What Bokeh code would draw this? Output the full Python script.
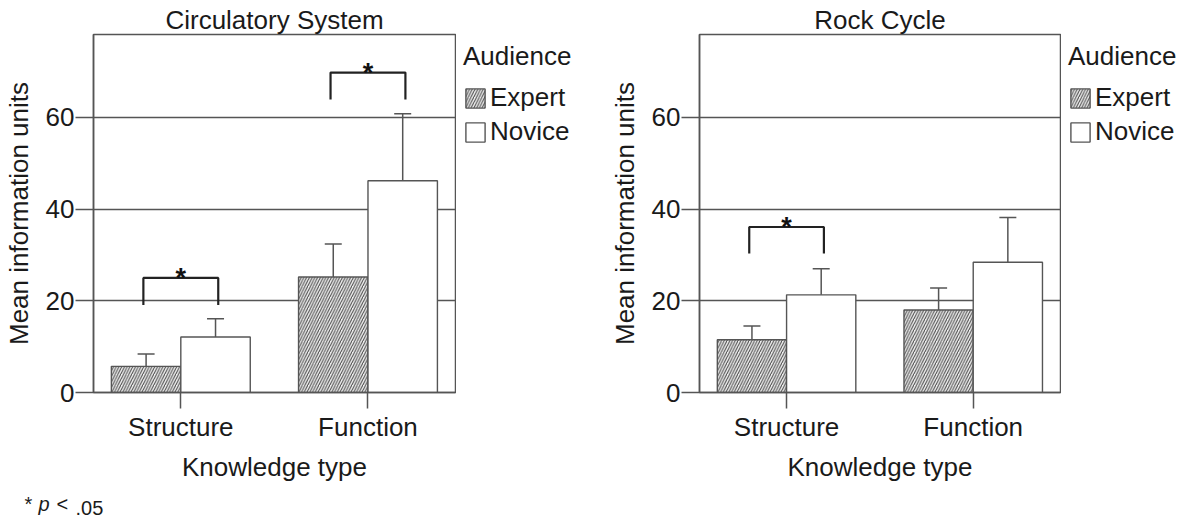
from bokeh.plotting import figure
from bokeh.models import (Range1d, FixedTicker, ColumnDataSource, Whisker, TeeHead,
                          Legend, LegendItem)
from bokeh.layouts import row, column
from bokeh.embed import file_html
from bokeh.resources import INLINE
from bokeh.core.properties import value

# ---------------- data ----------------
categories = ["Structure", "Function"]
audiences = ["Expert", "Novice"]
panel_titles = ["Circulatory System", "Rock Cycle"]
y_ticks = [0, 20, 40, 60]

circ_expert = [5.7, 25.2]
circ_expert_lo = [2.8, 17.9]
circ_expert_hi = [8.4, 32.4]
circ_novice = [12.1, 46.2]
circ_novice_lo = [8.0, 31.5]
circ_novice_hi = [16.1, 60.8]

rock_expert = [11.5, 18.0]
rock_expert_lo = [8.2, 13.0]
rock_expert_hi = [14.5, 22.8]
rock_novice = [21.3, 28.4]
rock_novice_lo = [15.6, 18.5]
rock_novice_hi = [27.0, 38.2]

# significance brackets (category, bottom of legs, top of bracket)
circ_sig_cat = ["Structure", "Function"]
circ_sig_bottom = [19.1, 63.9]
circ_sig_top = [25.0, 69.8]
rock_sig_cat = ["Structure"]
rock_sig_bottom = [30.3]
rock_sig_top = [36.1]

footnote_parts = ["*", "p", "<", ".05"]

# ---------------- style ----------------
FONT = "Liberation Sans"
TXT = "#1a1a1a"
LINE = "#555555"
FS = "26px"
BW = 0.371           # bar width (data units)
HALF = BW / 2
BRK = 0.2            # bracket half width
H = 490
TOP = 34
FRAME_H = 358
X_RANGE = (-0.4665, 1.4676)
Y_RANGE = (0, 78.1)

EXPERT_STYLE = dict(fill_color="#eeeeee", hatch_pattern="/", hatch_color="#4a4a4a",
                    hatch_scale=5.5, hatch_weight=1.05, line_color=LINE, line_width=1.4)
NOVICE_STYLE = dict(fill_color="white", line_color=LINE, line_width=1.4)


def style_axes(p):
    for ax in (p.xaxis, p.yaxis):
        ax.axis_line_color = LINE
        ax.axis_line_width = 1.5
        ax.major_tick_line_color = LINE
        ax.major_tick_line_width = 1.5
        ax.major_tick_in = 0
        ax.minor_tick_line_color = None
        ax.major_label_text_font = FONT
        ax.major_label_text_font_size = FS
        ax.major_label_text_color = TXT
        ax.axis_label_text_font = FONT
        ax.axis_label_text_font_size = FS
        ax.axis_label_text_font_style = "normal"
        ax.axis_label_text_color = TXT


def make_panel(title, expert, elo, ehi, novice, nlo, nhi, sig_cat, sig_bot, sig_top,
               left_border, frame_w):
    p = figure(width=left_border + frame_w + 1, height=H, output_backend="svg",
               toolbar_location=None, tools="",
               x_range=Range1d(*X_RANGE), y_range=Range1d(*Y_RANGE),
               min_border_left=left_border, min_border_right=1,
               min_border_top=TOP, min_border_bottom=H - TOP - FRAME_H)
    p.background_fill_color = "white"
    p.border_fill_color = "white"
    p.outline_line_color = LINE
    p.outline_line_width = 1.5

    p.title.text = title
    p.title.align = "center"
    p.title.text_font = FONT
    p.title.text_font_size = FS
    p.title.text_font_style = "normal"
    p.title.text_color = TXT
    p.title.standoff = 0

    p.xgrid.grid_line_color = None
    p.ygrid.ticker = FixedTicker(ticks=y_ticks)
    p.ygrid.grid_line_color = LINE
    p.ygrid.grid_line_width = 1.4

    p.yaxis.ticker = FixedTicker(ticks=y_ticks)
    p.yaxis.axis_label = "Mean information units"
    p.yaxis.major_tick_out = 18
    p.yaxis.major_label_standoff = 1
    p.yaxis.axis_label_standoff = 9

    p.xaxis.ticker = FixedTicker(ticks=list(range(len(categories))))
    p.xaxis.major_label_overrides = {i: c for i, c in enumerate(categories)}
    p.xaxis.axis_label = "Knowledge type"
    p.xaxis.major_tick_out = 16
    p.xaxis.major_label_standoff = 3
    p.xaxis.axis_label_standoff = 7
    style_axes(p)

    idx = list(range(len(categories)))
    ex = [i - HALF for i in idx]
    nx = [i + HALF for i in idx]

    p.vbar(x=ex, top=expert, bottom=0, width=BW, **EXPERT_STYLE)
    p.vbar(x=nx, top=novice, bottom=0, width=BW, **NOVICE_STYLE)

    for xs, lo, hi in ((ex, elo, ehi), (nx, nlo, nhi)):
        src = ColumnDataSource(dict(x=xs, lower=lo, upper=hi))
        w = Whisker(base="x", lower="lower", upper="upper", source=src,
                    line_color=LINE, line_width=1.5,
                    upper_head=TeeHead(size=17, line_color=LINE, line_width=1.5),
                    lower_head=TeeHead(size=17, line_color=LINE, line_width=1.5))
        p.add_layout(w)

    cs = [categories.index(c) for c in sig_cat]
    bxs = [[c - BRK, c - BRK, c + BRK, c + BRK] for c in cs]
    bys = [[b, t, t, b] for b, t in zip(sig_bot, sig_top)]
    p.multi_line(xs=bxs, ys=bys, line_color="#222222", line_width=2.2)
    p.text(x=cs, y=sig_top, text=["*"] * len(cs), text_align="center",
           text_baseline="alphabetic", y_offset=0, text_font=value(FONT),
           text_font_size="27px", text_font_style="bold", text_color="#111111")
    return p


def make_legend(width, expert, novice):
    # a side strip holding the panel's legend; its (hidden) bars carry the same
    # series and styles so the legend swatches match the panel's bars
    lg = figure(width=width, height=H, output_backend="svg", toolbar_location=None,
                tools="", x_range=Range1d(*X_RANGE), y_range=Range1d(*Y_RANGE),
                x_axis_location=None, y_axis_location=None,
                min_border_left=0, min_border_right=0,
                min_border_top=TOP, min_border_bottom=H - TOP - FRAME_H)
    lg.outline_line_color = None
    lg.grid.visible = False
    lg.background_fill_color = "white"
    lg.border_fill_color = "white"
    idx = list(range(len(categories)))
    r_exp = lg.vbar(x=[i - HALF for i in idx], top=expert, bottom=0, width=BW,
                    visible=False, **EXPERT_STYLE)
    r_nov = lg.vbar(x=[i + HALF for i in idx], top=novice, bottom=0, width=BW,
                    visible=False, **NOVICE_STYLE)
    legend = Legend(items=[LegendItem(label=audiences[0], renderers=[r_exp], index=0),
                           LegendItem(label=audiences[1], renderers=[r_nov], index=0)],
                    title="Audience", location="top_left")
    legend.click_policy = "none"
    legend.inactive_fill_alpha = 0
    legend.border_line_color = None
    legend.background_fill_alpha = 0
    legend.padding = 0
    legend.margin = 7
    legend.spacing = 3
    legend.glyph_width = 24
    legend.glyph_height = 24
    legend.label_height = 24
    legend.label_standoff = 3
    legend.title_standoff = 10
    legend.label_text_font = FONT
    legend.label_text_font_size = FS
    legend.label_text_color = TXT
    legend.title_text_font = FONT
    legend.title_text_font_size = FS
    legend.title_text_font_style = "normal"
    legend.title_text_color = TXT
    lg.add_layout(legend)
    return lg


p1 = make_panel(panel_titles[0], circ_expert, circ_expert_lo, circ_expert_hi,
                circ_novice, circ_novice_lo, circ_novice_hi,
                circ_sig_cat, circ_sig_bottom, circ_sig_top,
                left_border=91, frame_w=364)
lg1 = make_legend(150, circ_expert, circ_novice)
p2 = make_panel(panel_titles[1], rock_expert, rock_expert_lo, rock_expert_hi,
                rock_novice, rock_novice_lo, rock_novice_hi,
                rock_sig_cat, rock_sig_bottom, rock_sig_top,
                left_border=91, frame_w=363)
lg2 = make_legend(1183 - 456 - 150 - 455, rock_expert, rock_novice)

# footnote strip (pixel-like coordinates)
fn = figure(width=200, height=32, output_backend="svg", toolbar_location=None, tools="",
            x_range=Range1d(0, 200), y_range=Range1d(0, 32),
            x_axis_location=None, y_axis_location=None,
            min_border_left=0, min_border_right=0, min_border_top=0, min_border_bottom=0)
fn.outline_line_color = None
fn.grid.visible = False
fn_x = [24, 38, 56, 75]
fn_style = ["normal", "italic", "normal", "normal"]
for xpos, part, style in zip(fn_x, footnote_parts, fn_style):
    fn.text(x=[xpos], y=[8], text=[part], text_font=value(FONT),
            text_font_size="20px", text_font_style=style, text_color=TXT)

layout = column(row(p1, lg1, p2, lg2), fn)
open("out.html", "w").write(file_html(layout, INLINE))
